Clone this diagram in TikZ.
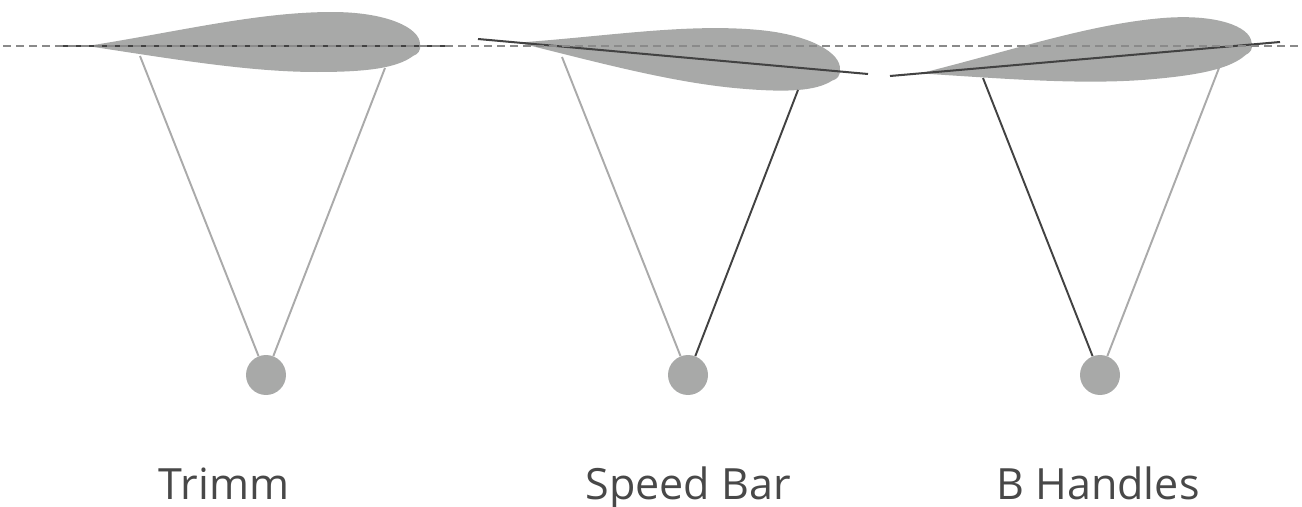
\documentclass[tikz,border=0pt]{standalone}
\usepackage{fontspec}
\setmainfont{Open Sans}
\definecolor{wingfill}{RGB}{168,169,168}
\definecolor{lightline}{RGB}{170,170,170}
\definecolor{darkline}{RGB}{66,66,66}
\definecolor{dashline}{RGB}{138,138,138}
\definecolor{labeltext}{RGB}{72,72,72}
\begin{document}
\begin{tikzpicture}[x=0.02cm,y=-0.02cm,
  wing/.pic={
    \fill[wingfill] (0,0)
      .. controls (90,-14) and (170,-34) .. (245,-34)
      .. controls (300,-34) and (333,-18) .. (333,-2)
      .. controls (334,5) and (331,8) .. (326,10)
      .. controls (310,22) and (280,26) .. (230,26)
      .. controls (160,26) and (80,12) .. (0,0) -- cycle;
  },
  chord/.style={draw=darkline, line width=1.15pt},
  horizon/.style={draw=dashline, line width=1.1pt, dash pattern=on 4.5pt off 2.9pt},
  lightrope/.style={draw=lightline, line width=1.1pt},
  darkrope/.style={draw=darkline, line width=1.1pt},
  weight/.style={circle, fill=wingfill, minimum size=0.8cm, inner sep=0pt},
  caption/.style={anchor=base, inner sep=0pt, text=labeltext, font=\fontsize{24.5}{28}\selectfont}
]
\useasboundingbox (0,0) rectangle (1302,507);

% wing profiles
\pic at (87,46) {wing};
\pic[rotate=-5.1, xscale=0.97] at (518,42.6) {wing};
\pic[rotate=5] at (920,73.4) {wing};

% chord lines
\coordinate (c1a) at (58,46);   \coordinate (c1b) at (445,46);
\coordinate (c2a) at (478,39);  \coordinate (c2b) at (868,74);
\coordinate (c3a) at (890,76);  \coordinate (c3b) at (1280,42);
\draw[chord] (c1a) -- (c1b);
\draw[chord] (c2a) -- (c2b);
\draw[chord] (c3a) -- (c3b);

% reference horizon
\coordinate (hl) at (3,46); \coordinate (hr) at (1302,46);
\draw[horizon] (hl) -- (hr);

% pilots
\node[weight] (p1) at (266,375) {};
\node[weight] (p2) at (688,375) {};
\node[weight] (p3) at (1100,375) {};

% line attachment points
\coordinate (a1) at (140,56);  \coordinate (b1) at (385,68);
\coordinate (a2) at (562,57);  \coordinate (b2) at (798,90);
\coordinate (a3) at (983,78);  \coordinate (b3) at (1219,68);

\draw[lightrope] (a1) -- (p1);
\draw[lightrope] (b1) -- (p1);
\draw[lightrope] (a2) -- (p2);
\draw[darkrope]  (b2) -- (p2);
\draw[darkrope]  (a3) -- (p3);
\draw[lightrope] (b3) -- (p3);

% captions
\node[caption] (t1) at (224,499) {Trimm};
\node[caption] (t2) at (688,499) {Speed Bar};
\node[caption] (t3) at (1098,499) {B Handles};
\end{tikzpicture}
\end{document}
